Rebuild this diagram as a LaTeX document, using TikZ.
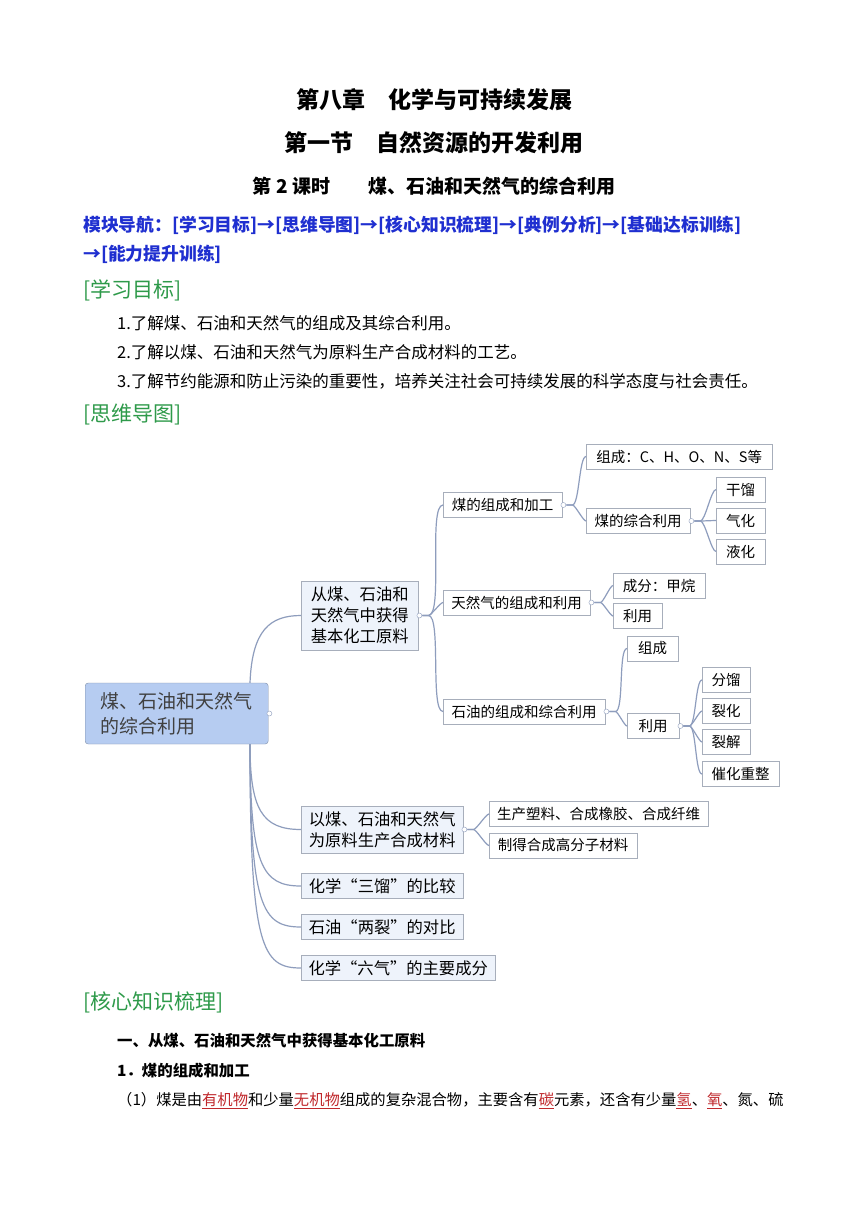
\documentclass[tikz,border=0pt]{standalone}
\usepackage{fontspec}
\setmainfont{Liberation Serif}
\newfontfamily\cjk{Noto Sans CJK SC}
\usetikzlibrary{calc}
\definecolor{navblue}{HTML}{1F2FD0}
\definecolor{headgreen}{HTML}{2E9A4A}
\definecolor{linkline}{HTML}{8E9DBD}
\definecolor{boxline}{HTML}{A7AEBB}
\definecolor{rootfill}{HTML}{B6CCF1}
\definecolor{midfill}{HTML}{EEF3FB}
\definecolor{keyred}{HTML}{C0282C}
\tikzset{
  leaf/.style={draw=boxline, fill=white, inner sep=2pt, anchor=west, minimum height=25pt,
    font=\cjk\fontsize{14.5}{16}\selectfont},
  mid/.style={leaf, fill=midfill, font=\cjk\fontsize{16.3}{21}\selectfont, align=left},
  root/.style={draw=rootfill!70!black, fill=rootfill, rounded corners=3pt, anchor=west,
    minimum width=183pt, minimum height=61pt, align=left, text=black!75,
    font=\cjk\fontsize{19}{25}\selectfont},
  link/.style={draw=linkline, line width=1.2pt},
  knob/.style={draw=linkline, fill=white, circle, inner sep=0pt, minimum size=5pt},
  txt/.style={anchor=west, inner sep=0pt, font=\cjk\fontsize{16.5}{18}\selectfont},
  head/.style={anchor=west, inner sep=0pt, text=headgreen, font=\cjk\fontsize{21}{23}\selectfont}
}
\newcommand{\keyword}[1]{\textcolor{keyred}{\underline{#1}}}
\begin{document}
\begin{tikzpicture}[x=1pt,y=-1pt]
\useasboundingbox[fill=white] (0,0) rectangle (868,1227);
% headings
\node[font=\cjk\bfseries\fontsize{23}{25}\selectfont] (t1) at (434,100) {第八章\quad 化学与可持续发展};
\node[font=\cjk\bfseries\fontsize{23}{25}\selectfont] (t2) at (434,143) {第一节\quad 自然资源的开发利用};
\node[font=\cjk\bfseries\fontsize{19}{21}\selectfont] (t3) at (434,186) {第 2 课时\qquad 煤、石油和天然气的综合利用};
\node[txt, text=navblue, font=\cjk\bfseries\fontsize{17.8}{20}\selectfont] (nav1) at (83,225)
  {模块导航：[学习目标]→[思维导图]→[核心知识梳理]→[典例分析]→[基础达标训练]};
\node[txt, text=navblue, font=\cjk\bfseries\fontsize{17.8}{20}\selectfont] (nav2) at (83,254) {→[能力提升训练]};
\node[head] (h1) at (83,290) {[学习目标]};
\node[txt] (g1) at (117,323) {1.了解煤、石油和天然气的组成及其综合利用。};
\node[txt] (g2) at (117,352) {2.了解以煤、石油和天然气为原料生产合成材料的工艺。};
\node[txt] (g3) at (117,381) {3.了解节约能源和防止污染的重要性，培养关注社会可持续发展的科学态度与社会责任。};
\node[head] (h2) at (83,414) {[思维导图]};
% links first so boxes cover their ends
\coordinate (rtop) at (250,683);
\coordinate (rbot) at (250,744);
\coordinate (raw-in) at (301,615.5);
\draw[link] (rtop) .. controls (252,630) and (270,615.5) .. (raw-in);
\foreach \y in {829.5,886,927,968}
  \draw[link] (rbot) .. controls (250,{\y-20}) and (262,\y) .. (301,\y);
% mind map
\node[root] (coal) at (85,713.5) {煤、石油和天然气\\的综合利用};
\node[mid, minimum width=117pt, minimum height=69pt] (raw) at (301,615.5) {从煤、石油和\\天然气中获得\\基本化工原料};
\node[mid, minimum width=162pt, minimum height=47pt] (syn) at (301,829.5) {以煤、石油和天然气\\为原料生产合成材料};
\node[mid, minimum width=162pt] (san) at (301,886) {化学“三馏”的比较};
\node[mid, minimum width=162pt] (liang) at (301,927) {石油“两裂”的对比};
\node[mid, minimum width=194pt] (liu) at (301,968) {化学“六气”的主要成分};
\node[leaf, minimum width=119pt] (mei) at (443,505) {煤的组成和加工};
\node[leaf, minimum width=147pt] (gas) at (443,602.5) {天然气的组成和利用};
\node[leaf, minimum width=162pt] (oil) at (443,711.5) {石油的组成和综合利用};
\node[leaf, minimum width=186pt] (meizc) at (586,456.5) {组成：C、H、O、N、S等};
\node[leaf, minimum width=104pt] (meily) at (586,521) {煤的综合利用};
\node[leaf, minimum width=49pt] (gl) at (716,489.5) {干馏};
\node[leaf, minimum width=49pt] (qh) at (716,520.5) {气化};
\node[leaf, minimum width=49pt] (yh) at (716,551.5) {液化};
\node[leaf, minimum width=92pt] (jw) at (613,585.5) {成分：甲烷};
\node[leaf, minimum width=49pt] (gasly) at (613,616) {利用};
\node[leaf, minimum width=51pt] (oilzc) at (627,648.5) {组成};
\node[leaf, minimum width=52pt] (oilly) at (627,726) {利用};
\node[leaf, minimum width=48pt] (fl) at (702,680) {分馏};
\node[leaf, minimum width=48pt] (lh) at (702,711) {裂化};
\node[leaf, minimum width=48pt] (lj) at (702,742) {裂解};
\node[leaf, minimum width=77pt] (ch) at (702,774) {催化重整};
\node[leaf, minimum width=219pt] (sl) at (489,814) {生产塑料、合成橡胶、合成纤维};
\node[leaf, minimum width=148pt] (gf) at (489,845.5) {制得合成高分子材料};
\foreach \p/\kids in {raw/{mei,gas,oil},mei/{meizc,meily},meily/{gl,qh,yh},gas/{jw,gasly},oil/{oilzc,oilly},oilly/{fl,lh,lj,ch},syn/{sl,gf}}{
  \coordinate (\p-k) at ($(\p.east)+(4,0)$);
  \foreach \c in \kids
    \draw[link] (\p-k) -- ++(6,0) to[out=0,in=180,looseness=0.35] (\c.west);
}
\foreach \p in {coal,raw,mei,meily,gas,oil,oilly,syn}
  \node[knob] at ($(\p.east)+(1,0)$) {};
% body
\node[head] (h3) at (83,1002) {[核心知识梳理]};
\node[txt, font=\cjk\bfseries\fontsize{15.4}{17}\selectfont] (s1) at (117,1041) {一、从煤、石油和天然气中获得基本化工原料};
\node[txt, font=\cjk\bfseries\fontsize{15.4}{17}\selectfont] (s2) at (117,1071) {1．煤的组成和加工};
\node[txt, font=\cjk\fontsize{15.3}{17}\selectfont] (p1) at (117,1101) {（1）煤是由\keyword{有机物}和少量\keyword{无机物}组成的复杂混合物，主要含有\keyword{碳}元素，还含有少量\keyword{氢}、\keyword{氧}、氮、硫};
\end{tikzpicture}
\end{document}
